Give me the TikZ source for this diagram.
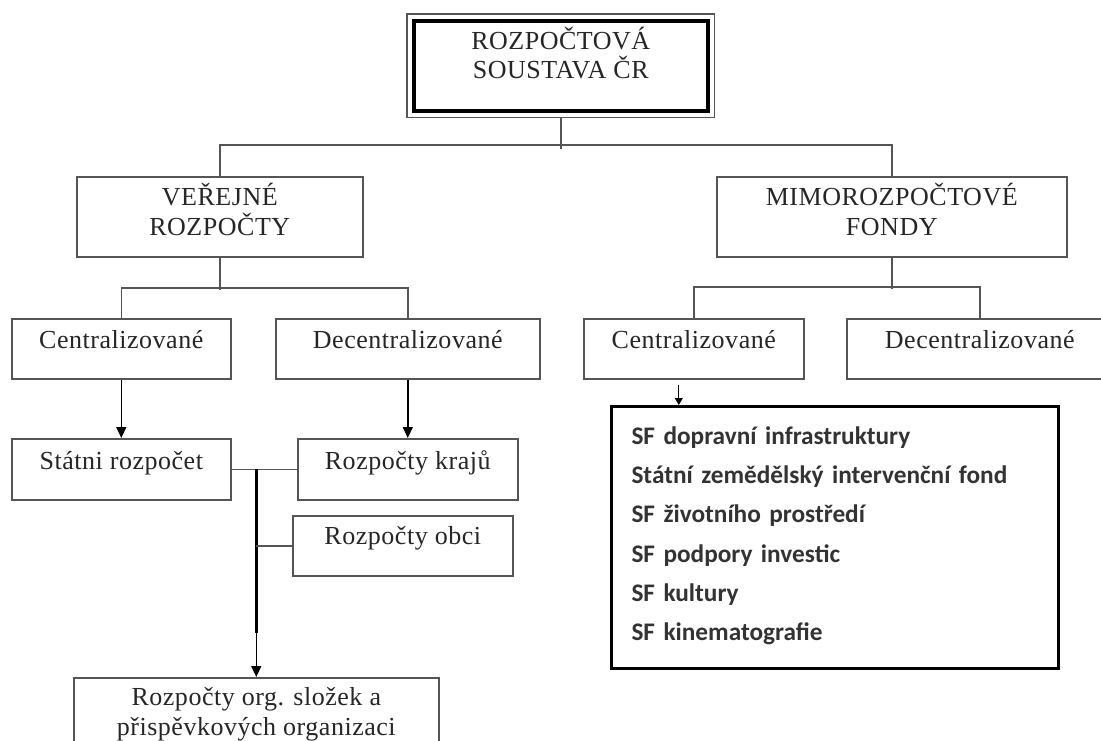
\documentclass[tikz,border=0pt]{standalone}
\usepackage{fontspec}
\setmainfont[LetterSpace=2]{Liberation Serif}
\newfontfamily\sffont{Carlito}
\usetikzlibrary{arrows.meta,fit}
\definecolor{boxgray}{HTML}{555555}
\definecolor{txtgray}{HTML}{262626}

\begin{document}
\begin{tikzpicture}[x=1pt,y=-1pt,every node/.style={anchor=north west, inner sep=0pt, align=center, text=txtgray, font=\fontsize{26}{30}\selectfont},rbox/.style={draw=boxgray, line width=1.6pt, text height=30pt, text depth=30pt},twoline/.style={rbox, text height=59pt, text depth=21pt},link/.style={draw=boxgray, line width=1.5pt},arr/.style={draw=black, line width=1.4pt, -{Triangle[length=11pt,width=10pt]}}]
\useasboundingbox[fill=white] (0,0) rectangle (1101,740);
\clip (0,0) rectangle (1101,740);
\node[rbox, draw=black, line width=3.5pt, minimum width=294pt, text height=58pt, text depth=32pt, font=\fontsize{26}{29}\selectfont] (root) at (412,19) {ROZPOČTOVÁ\\SOUSTAVA ČR};
\node[draw=boxgray, line width=1.5pt, fit=(root), anchor=center, inner sep=5pt] (rootframe) {};
\node[twoline, minimum width=286pt] (vr) at (76,176) {VEŘEJNÉ\\ROZPOČTY};
\node[twoline, minimum width=350pt] (mf) at (716,176) {MIMOROZPOČTOVÉ\\FONDY};
\node[rbox, minimum width=219pt] (cL) at (11,318) {Centralizované};
\node[rbox, minimum width=264pt] (dL) at (275,318) {Decentralizované};
\node[rbox, minimum width=220pt] (cR) at (583,318) {Centralizované};
\node[rbox, minimum width=266pt] (dR) at (846,318) {Decentralizované};
\node[rbox, minimum width=219pt, text height=31pt] (statni) at (11,438) {Státni rozpočet};
\node[rbox, minimum width=220pt, text height=31pt] (kraje) at (297,438) {Rozpočty krajů};
\node[rbox, minimum width=220pt, text height=29pt, text depth=31pt] (obce) at (292,515) {Rozpočty obci};
\node[rbox, minimum width=365pt, text height=58pt, text depth=30pt] (org) at (73,677) {Rozpočty org. složek a\\přispěvkových organizaci};
\node[draw=black, line width=3pt, text width=407pt, inner xsep=20pt, align=left, text height=38pt, text depth=224pt, text=black!80, font=\sffont\bfseries\fontsize{25.3}{39.2}\selectfont] (sf) at (610,405) {SF dopravní infrastruktury\\Státní zemědělský intervenční fond\\SF životního prostředí\\SF podpory investic\\SF kultury\\SF kinematografie};
\draw[link] (rootframe.south) -- ++(0,31);
\draw[link] (vr.north) -- ++(0,-31) -| (mf.north);
\draw[link] (vr.south) -- ++(0,32);
\draw[link] (cL.north) -- ++(0,-30) -| (dL.north);
\draw[link] (mf.south) -- ++(0,31);
\draw[link] (cR.north) -- ++(0,-31) -| (dR.north);
\draw[arr] (cL.south) -- (statni.north);
\draw[arr] (dL.south) -- (kraje.north);
\coordinate (sfin) at ([xshift=-15pt]cR.south);
\draw[arr, line width=1pt, -{Triangle[length=7pt,width=8pt]}] (sfin) ++(0,5) -- (sfin |- sf.north);
\draw[link] (statni.east) -- (kraje.west);
\coordinate (trunk) at (org.north |- kraje.west);
\draw[black, line width=3pt] (trunk) -- ++(0,164) coordinate (trunkend);
\draw[link] (trunk |- obce.west) -- (obce.west);
\draw[arr] (trunkend) -- (org.north);
\end{tikzpicture}
\end{document}
